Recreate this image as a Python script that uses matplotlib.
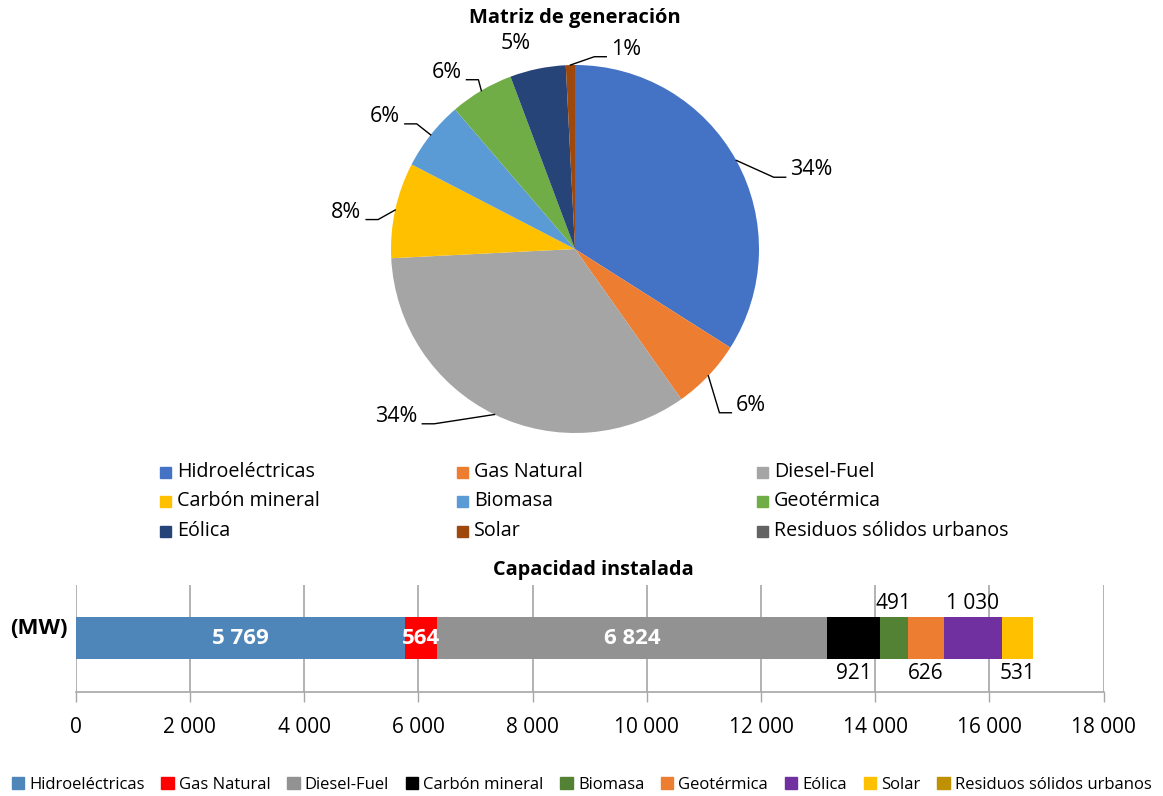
import numpy as np
import matplotlib
matplotlib.use("Agg")
from matplotlib import pyplot as plt
from matplotlib.patches import Rectangle

plt.rcParams['font.family'] = ['Open Sans', 'DejaVu Sans']

# generation mix (share of energy, %)
gen_names = ['Hidroeléctricas', 'Gas Natural', 'Diesel-Fuel', 'Carbón mineral',
             'Biomasa', 'Geotérmica', 'Eólica', 'Solar', 'Residuos sólidos urbanos']
gen_share = [34.0, 6.2, 34.0, 8.4, 6.1, 5.6, 4.9, 0.8, 0.0]
gen_colors = ['#4472C4', '#ED7D31', '#A5A5A5', '#FFC000', '#5B9BD5',
              '#70AD47', '#264478', '#9E480E', '#636363']

# installed capacity (MW)
cap_names = ['Hidroeléctricas', 'Gas Natural', 'Diesel-Fuel', 'Carbón mineral',
             'Biomasa', 'Geotérmica', 'Eólica', 'Solar', 'Residuos sólidos urbanos']
cap_mw = [5769, 564, 6824, 921, 491, 626, 1030, 531, 0]
cap_colors = ['#4F86BA', '#FF0000', '#929292', '#000000', '#548235',
              '#ED7D31', '#7030A0', '#FFC000', '#BF9000']
cap_ticks = [0, 2000, 4000, 6000, 8000, 10000, 12000, 14000, 16000, 18000]

# where each percentage label sits (pie radius = 1); False = no leader line
pct_label_xy = [(1.17, 0.43), (0.875, -0.85), (-0.855, -0.91), (-1.16, 0.20),
                (-0.95, 0.72), (-0.615, 0.96), (-0.32, 1.115), (0.195, 1.085)]
pct_leader = [True, True, True, True, True, True, False, True]

W, H = 1163, 796
fig = plt.figure(figsize=(W / 100, H / 100), dpi=100)


def fx(px):
    return px / W


def fy(py):
    return 1 - py / H


# ---- pie ----
R = 184.0
cx, cy = 575.0, 249.0
half = 250.0
ax = fig.add_axes([fx(cx - half), fy(cy + half), 2 * half / W, 2 * half / H])
lim = half / R
ax.axis('off')

vals = [v for v in gen_share if v > 0]
wedges, _ = ax.pie(vals, colors=gen_colors[:len(vals)], startangle=90,
                   counterclock=False, radius=1.0, center=(0, 0),
                   wedgeprops=dict(linewidth=0))
ax.set_xlim(-lim, lim)
ax.set_ylim(-lim, lim)
ax.set_aspect('equal')

for w, v, (tx, ty), lead in zip(wedges, vals, pct_label_xy, pct_leader):
    mid = np.deg2rad((w.theta1 + w.theta2) / 2)
    ex, ey = np.cos(mid), np.sin(mid)
    txt = '%d%%' % round(v)
    if not lead:
        ax.text(tx, ty, txt, ha='center', va='center', fontsize=15.5)
        continue
    side = 1 if tx > 0 else -1
    ax.text(tx, ty, txt, ha='left' if side > 0 else 'right', va='center',
            fontsize=15.5, clip_on=False)
    x1 = tx - side * 0.025
    x0 = x1 - side * 0.065
    yl = ty - 0.04
    ax.plot([ex, x0, x1], [ey, yl, yl], color='black', lw=1.0, clip_on=False)

fig.text(fx(575), fy(18), 'Matriz de generación', ha='center', va='center',
         fontsize=14.5, fontweight='bold')

# pie legend, 3 columns filled row by row
col_x = [160, 457, 757]
row_y = [472, 501, 531]
sq = 11
for i, (name, col) in enumerate(zip(gen_names, gen_colors)):
    r, c = divmod(i, 3)
    x, y = col_x[c], row_y[r]
    fig.patches.append(Rectangle((fx(x), fy(y + sq / 2)), sq / W, sq / H,
                                 transform=fig.transFigure, color=col))
    fig.text(fx(x + 17), fy(y), name, ha='left', va='center', fontsize=14.2)

# ---- stacked bar ----
bx = fig.add_axes([fx(75.7), fy(691.7), 1028 / W, (691.7 - 585) / H])
left = 0
for name, v, col in zip(cap_names, cap_mw, cap_colors):
    bx.barh(0.5, v, left=left, height=0.393, color=col, label=name)
    left += v

bx.set_xlim(0, 18000)
bx.set_ylim(0, 1)
bx.set_xticks(cap_ticks)
bx.set_xticklabels([f'{t:,}'.replace(',', ' ') for t in cap_ticks], fontsize=15)
bx.tick_params(axis='x', length=7, width=1, color='#A6A6A6', pad=11)
bx.set_yticks([])
for s in ['top', 'right', 'left']:
    bx.spines[s].set_visible(False)
bx.spines['bottom'].set_color('#A6A6A6')
bx.spines['bottom'].set_linewidth(1.2)
bx.grid(axis='x', color='#A6A6A6', lw=1.2)
bx.set_axisbelow(True)

# value labels: the three big segments inside, the rest alternating below / above
place = ['in', 'in', 'in', 'below', 'above', 'below', 'above', 'below']
left = 0
for v, p in zip(cap_mw, place):
    mid = left + v / 2
    s = f'{v:,}'.replace(',', ' ')
    if p == 'in':
        bx.text(mid, 0.5, s, ha='center', va='center', color='white',
                fontsize=16, fontweight='bold')
    elif p == 'above':
        bx.text(mid, 0.83, s, ha='center', va='center', fontsize=15,
                clip_on=False)
    else:
        bx.text(mid, 0.17, s, ha='center', va='center', fontsize=15)
    left += v

fig.text(fx(68), fy(629), '(MW)', ha='right', va='center', fontsize=16,
         fontweight='bold')
fig.text(fx(593), fy(570), 'Capacidad instalada', ha='center', va='center',
         fontsize=14.3, fontweight='bold')

# bottom legend in one row
handles = [Rectangle((0, 0), 1, 1, color=c) for c in cap_colors]
fig.legend(handles, cap_names, loc='center', bbox_to_anchor=(0.5, fy(785)),
           ncol=9, frameon=False, fontsize=12, handlelength=0.75,
           handleheight=0.75, handletextpad=0.3, columnspacing=1.0,
           borderpad=0, borderaxespad=0)

fig.savefig('out.png', dpi=100)
